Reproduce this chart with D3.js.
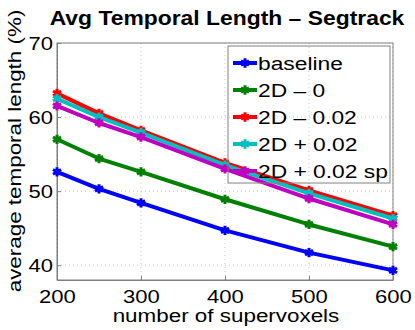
<!DOCTYPE html>
<html>
<head>
<meta charset="utf-8">
<script src="https://cdn.jsdelivr.net/npm/d3@7"></script>
<style>
  body { margin: 0; background: #fff; }
  text { font-family: "Liberation Sans", Arial, sans-serif; fill: #000; }
</style>
</head>
<body>
<div class="chart"></div>
<script>
// data
var xValues = [200, 250, 300, 400, 500, 600];
var seriesNames = ["baseline", "2D \u2013 0", "2D \u2013 0.02", "2D + 0.02", "2D + 0.02 sp"];
var baseline = [52.6, 50.3, 48.4, 44.7, 41.7, 39.3];
var twoD0 = [57.0, 54.4, 52.6, 48.9, 45.5, 42.5];
var twoD002 = [63.2, 60.5, 58.2, 53.8, 50.1, 46.7];
var twoDplus002 = [62.5, 60.0, 57.9, 53.5, 49.7, 46.3];
var twoDplus002sp = [61.5, 59.2, 57.3, 53.0, 49.0, 45.5];
var xTicks = [200, 300, 400, 500, 600];
var yTicks = [40, 50, 60, 70];

var colors = ["#0000ff", "#008000", "#ff0000", "#00bfbf", "#bf00bf"];
var allSeries = [baseline, twoD0, twoD002, twoDplus002, twoDplus002sp];

var svgWidth = 415, svgHeight = 330;
var margin = { top: 43, right: 22, bottom: 50, left: 57 };
var width = svgWidth - margin.left - margin.right;
var height = svgHeight - margin.top - margin.bottom;

// the text in the picture is a bit wider than Liberation Sans, stretch it
function stretch(sel, s, ax) {
  sel.attr("transform", `translate(${ax},0) scale(${s},1) translate(${-ax},0)`);
}

var svg = d3.select(".chart")
  .append("svg")
  .attr("width", svgWidth)
  .attr("height", svgHeight);

var chartGroup = svg.append("g")
  .attr("transform", `translate(${margin.left}, ${margin.top})`);

var xScale = d3.scaleLinear().domain([200, 600]).range([0, width]);
var yScale = d3.scaleLinear().domain([38, 70]).range([height, 0]);

// grid
chartGroup.selectAll(".vgrid")
  .data(xTicks)
  .enter().append("line")
  .attr("x1", d => xScale(d)).attr("x2", d => xScale(d))
  .attr("y1", 0).attr("y2", height)
  .attr("stroke", "#c8c8c8").attr("stroke-width", 1)
  .attr("stroke-dasharray", "1,3");

chartGroup.selectAll(".hgrid")
  .data(yTicks)
  .enter().append("line")
  .attr("x1", 0).attr("x2", width)
  .attr("y1", d => yScale(d)).attr("y2", d => yScale(d))
  .attr("stroke", "#c8c8c8").attr("stroke-width", 1)
  .attr("stroke-dasharray", "1,3");

// frame
chartGroup.append("rect")
  .attr("width", width).attr("height", height)
  .attr("fill", "none").attr("stroke", "#808080").attr("stroke-width", 1);

// axes
var bottomAxis = d3.axisBottom(xScale).tickValues(xTicks).tickSizeInner(-4).tickSizeOuter(0).tickPadding(10);
var leftAxis = d3.axisLeft(yScale).tickValues(yTicks).tickSizeInner(-4).tickSizeOuter(0).tickPadding(4);

var gx = chartGroup.append("g")
  .attr("transform", `translate(0, ${height})`)
  .call(bottomAxis);
var gy = chartGroup.append("g").call(leftAxis);

[gx, gy].forEach(function(g) {
  g.select(".domain").attr("stroke", "#808080");
  g.selectAll(".tick line").attr("stroke", "#808080");
  g.selectAll(".tick text").style("font-size", "19px").attr("fill", "#000");
});
stretch(gx.selectAll(".tick text"), 1.16, 0);
stretch(gy.selectAll(".tick text"), 1.16, -4);

// lines
var line = d3.line()
  .x((d, i) => xScale(xValues[i]))
  .y(d => yScale(d));

var star = d3.symbol().type(d3.symbolAsterisk).size(60);

allSeries.forEach(function(vals, k) {
  chartGroup.append("path")
    .datum(vals)
    .attr("d", line)
    .attr("fill", "none")
    .attr("stroke", colors[k])
    .attr("stroke-width", 4)
    .attr("stroke-linejoin", "round");

  chartGroup.selectAll(".pt" + k)
    .data(vals)
    .enter().append("path")
    .attr("d", star)
    .attr("transform", (d, i) => `translate(${xScale(xValues[i])}, ${yScale(d)})`)
    .attr("fill", "none")
    .attr("stroke", colors[k])
    .attr("stroke-width", 3);
});

// legend (transparent box, the data lines show through)
var legend = svg.append("g").attr("transform", "translate(228, 46)");
legend.append("rect")
  .attr("width", 162).attr("height", 137)
  .attr("fill", "none").attr("stroke", "#808080").attr("stroke-width", 1);

seriesNames.forEach(function(name, k) {
  var y = 17 + k * 27;
  legend.append("line")
    .attr("x1", 5).attr("x2", 29)
    .attr("y1", y).attr("y2", y)
    .attr("stroke", colors[k]).attr("stroke-width", 4);
  legend.append("path")
    .attr("d", star)
    .attr("transform", `translate(17, ${y})`)
    .attr("fill", "none").attr("stroke", colors[k]).attr("stroke-width", 3);
  legend.append("text")
    .attr("x", 30).attr("y", y + 7)
    .style("font-size", "19px")
    .call(stretch, 1.2, 30)
    .text(name);
});

// title and labels
svg.append("text")
  .attr("x", 227).attr("y", 25)
  .attr("text-anchor", "middle")
  .style("font-size", "21px").style("font-weight", "bold")
  .call(stretch, 1.09, 227)
  .text("Avg Temporal Length \u2013 Segtrack");

svg.append("text")
  .attr("x", 226).attr("y", 322)
  .attr("text-anchor", "middle")
  .style("font-size", "19px")
  .call(stretch, 1.18, 226)
  .text("number of supervoxels");

svg.append("text")
  .attr("transform", "rotate(-90) scale(1.18,1)")
  .attr("x", -151 / 1.18).attr("y", 21)
  .attr("text-anchor", "middle")
  .style("font-size", "19px")
  .text("average temporal length (%)");
</script>
</body>
</html>
